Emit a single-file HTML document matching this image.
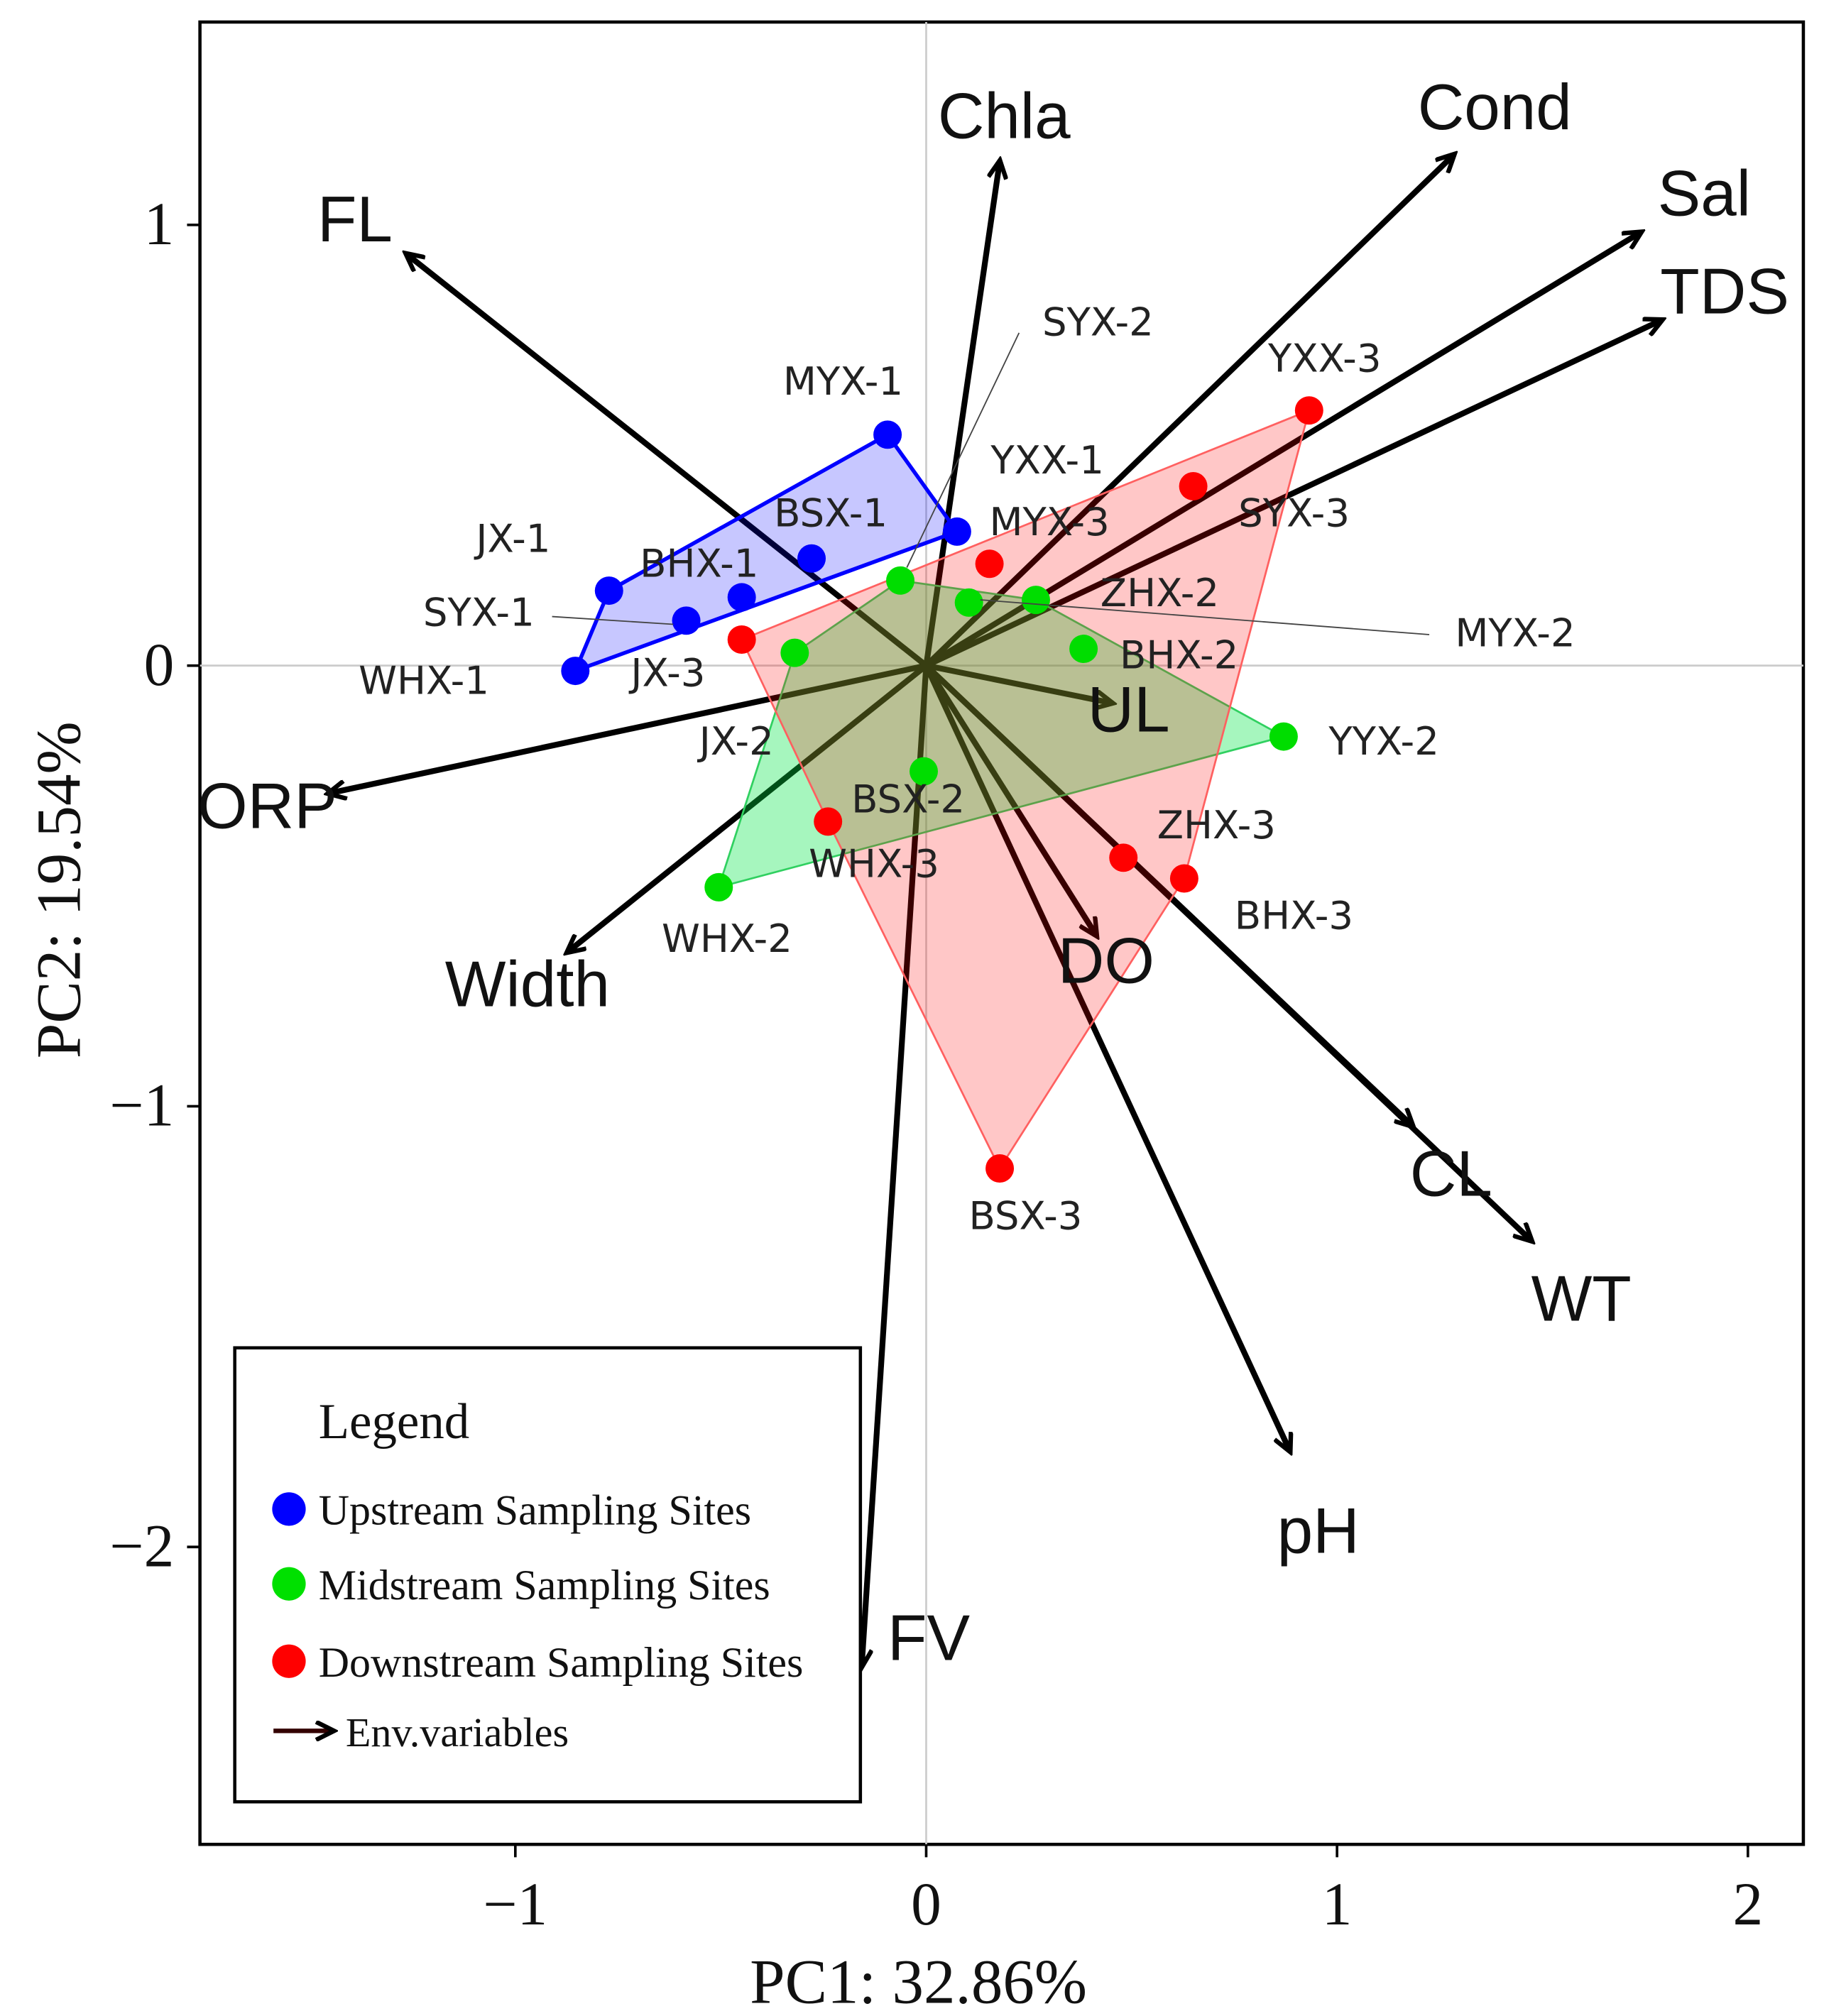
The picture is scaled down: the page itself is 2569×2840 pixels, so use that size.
<!DOCTYPE html>
<html><head><meta charset="utf-8"><style>
html,body{margin:0;padding:0;background:#fff;}
svg{display:block;}
.site{font-family:"DejaVu Sans","Liberation Sans",sans-serif;font-size:30px;fill:#222;}
.var{font-family:"Liberation Sans",sans-serif;font-size:50px;fill:#111;}
.ser{font-family:"Liberation Serif",serif;fill:#111;}
</style></head><body>
<svg id="chart" width="2569" height="2840" viewBox="0 0 1414 1563" xmlns="http://www.w3.org/2000/svg">
<defs>
<marker id="ah" markerWidth="18" markerHeight="16" refX="14" refY="8" orient="auto" markerUnits="userSpaceOnUse" viewBox="0 0 18 16">
<path d="M1,1 L15,8 L1,15" fill="none" stroke="#000" stroke-width="3.5"/>
</marker>
</defs>
<rect x="155" y="17" width="1243" height="1413" fill="#fff" stroke="#000" stroke-width="2.5"/>
<g id="grid"></g>
<g id="axes"></g>
<g id="arrows"></g>
<g id="hulls"></g>
<g id="points"></g>
<g id="labels">
<line x1="790" y1="258" x2="703" y2="440" stroke="#444" stroke-width="1"/>
<line x1="428" y1="478" x2="522" y2="484" stroke="#444" stroke-width="1"/>
<line x1="760" y1="465" x2="1108" y2="492" stroke="#444" stroke-width="1"/>
<text class="site" x="808" y="260">SYX-2</text>
<text class="site" x="607" y="306">MYX-1</text>
<text class="site" x="983" y="288">YXX-3</text>
<text class="site" x="768" y="367">YXX-1</text>
<text class="site" x="600" y="408">BSX-1</text>
<text class="site" x="767" y="415">MYX-3</text>
<text class="site" x="960" y="408">SYX-3</text>
<text class="site" x="369" y="428">JX-1</text>
<text class="site" x="496" y="447">BHX-1</text>
<text class="site" x="853" y="470">ZHX-2</text>
<text class="site" x="328" y="485">SYX-1</text>
<text class="site" x="1128" y="501">MYX-2</text>
<text class="site" x="278" y="538">WHX-1</text>
<text class="site" x="489" y="532">JX-3</text>
<text class="site" x="868" y="518">BHX-2</text>
<text class="site" x="542" y="585">JX-2</text>
<text class="site" x="1030" y="585">YYX-2</text>
<text class="site" x="660" y="630">BSX-2</text>
<text class="site" x="897" y="650">ZHX-3</text>
<text class="site" x="627" y="680">WHX-3</text>
<text class="site" x="957" y="720">BHX-3</text>
<text class="site" x="513" y="738">WHX-2</text>
<text class="site" x="751" y="953">BSX-3</text>
</g>
<g id="varlabels">
<text class="var" x="727" y="107">Chla</text>
<text class="var" x="1099" y="100">Cond</text>
<text class="var" x="1285" y="167">Sal</text>
<text class="var" x="1287" y="243">TDS</text>
<text class="var" x="246" y="187">FL</text>
<text class="var" x="153" y="642">ORP</text>
<text class="var" x="345" y="780">Width</text>
<text class="var" x="843" y="567">UL</text>
<text class="var" x="820" y="762">DO</text>
<text class="var" x="1093" y="927">CL</text>
<text class="var" x="1187" y="1024">WT</text>
<text class="var" x="990" y="1204">pH</text>
<text class="var" x="688" y="1287">FV</text>
</g>
<g>
<rect x="182" y="1045" width="485" height="352" fill="#fff" stroke="#000" stroke-width="2.5"/>
<text class="ser" x="247" y="1115" font-size="39">Legend</text>
<circle cx="224" cy="1170" r="13" fill="#0000ff"/>
<text class="ser" x="247" y="1182" font-size="33">Upstream Sampling Sites</text>
<circle cx="224" cy="1228" r="13" fill="#00e000"/>
<text class="ser" x="247" y="1240" font-size="33">Midstream Sampling Sites</text>
<circle cx="224" cy="1288" r="13" fill="#ff0000"/>
<text class="ser" x="247" y="1300" font-size="33">Downstream Sampling Sites</text>
<line x1="212" y1="1342" x2="258" y2="1342" stroke="#300" stroke-width="3.5" marker-end="url(#ah)"/>
<text class="ser" x="268" y="1354" font-size="32">Env.variables</text>
</g>
<text class="ser" x="712" y="1553" font-size="49" text-anchor="middle">PC1: 32.86%</text>
<text class="ser" x="0" y="0" font-size="49" text-anchor="middle" transform="translate(62,690) rotate(-90)">PC2: 19.54%</text>
<script>
const xTicks=[-1,0,1,2];
const yTicks=[1,0,-1,-2];
const upX=[-0.094,0.075,-0.279,-0.449,-0.584,-0.772,-0.854];
const upY=[0.524,0.304,0.243,0.155,0.102,0.170,-0.012];
const midX=[-0.063,0.104,0.267,0.383,0.870,-0.006,-0.505,-0.320];
const midY=[0.193,0.143,0.149,0.038,-0.161,-0.240,-0.503,0.029];
const downX=[0.932,0.650,0.154,-0.449,-0.239,0.480,0.628,0.179];
const downY=[0.579,0.407,0.231,0.059,-0.354,-0.436,-0.483,-1.141];
const varNames=["Chla","Cond","Sal","TDS","FL","ORP","Width","UL","DO","CL","WT","pH","FV"];
const varX=[0.179,1.284,1.739,1.790,-1.265,-1.454,-0.873,0.452,0.414,1.184,1.473,0.885,-0.157];
const varY=[1.144,1.159,0.983,0.784,0.934,-0.290,-0.650,-0.085,-0.612,-1.045,-1.305,-1.782,-2.271];

const NS="http://www.w3.org/2000/svg";
const X0=718,XU=318.5,Y0=516,YU=341.7;
const sx=v=>X0+v*XU, sy=v=>Y0-v*YU;
function mk(tag,attrs,parent){const e=document.createElementNS(NS,tag);for(const k in attrs)e.setAttribute(k,attrs[k]);document.getElementById(parent).appendChild(e);return e;}
let g=mk('line',{x1:sx(0),x2:sx(0),y1:17,y2:1430,stroke:'#ccc','stroke-width':1.5},'grid');


g=mk('line',{x1:155,x2:1398,y1:sy(0),y2:sy(0),stroke:'#ccc','stroke-width':1.5},'grid');


xTicks.forEach(t=>{
  const l=mk('line',{x1:sx(t),x2:sx(t),y1:1430,y2:1440,stroke:'#000','stroke-width':2},'axes');
  
  
  const tx=mk('text',{x:sx(t),y:1492,'text-anchor':'middle','font-size':47,class:'ser'},'axes');
  tx.textContent=t<0?'\u2212'+(-t):String(t);
  
  
});
yTicks.forEach(t=>{
  const l=mk('line',{x1:145,x2:155,y1:sy(t),y2:sy(t),stroke:'#000','stroke-width':2},'axes');
  
  
  const tx=mk('text',{x:135,y:sy(t)+15,'text-anchor':'end','font-size':47,class:'ser'},'axes');
  tx.textContent=t<0?'\u2212'+(-t):String(t);
  
  
});
varNames.forEach((n,i)=>{
  const a=mk('line',{x1:sx(0),y1:sy(0),x2:sx(varX[i]),y2:sy(varY[i]),stroke:'#000','stroke-width':4.5,'marker-end':'url(#ah)'},'arrows');
  
  
});
function hull(xs,ys){
  const p=xs.map((x,i)=>[sx(x),sy(ys[i])]).sort((a,b)=>a[0]-b[0]||a[1]-b[1]);
  const cr=(o,a,b)=>(a[0]-o[0])*(b[1]-o[1])-(a[1]-o[1])*(b[0]-o[0]);
  const lo=[],up=[];
  for(const q of p){while(lo.length>=2&&cr(lo[lo.length-2],lo[lo.length-1],q)<=0)lo.pop();lo.push(q);}
  for(let i=p.length-1;i>=0;i--){const q=p[i];while(up.length>=2&&cr(up[up.length-2],up[up.length-1],q)<=0)up.pop();up.push(q);}
  lo.pop();up.pop();return lo.concat(up).map(q=>q.join(',')).join(' ');
}
const groups=[
 {n:'upstream',xs:upX,ys:upY,fill:'rgba(0,0,255,0.22)',stroke:'#0000ff',sw:3,dot:'#0000ff'},
 {n:'midstream',xs:midX,ys:midY,fill:'rgba(0,230,70,0.35)',stroke:'#30d060',sw:1.5,dot:'#00dd00'},
 {n:'downstream',xs:downX,ys:downY,fill:'rgba(255,0,0,0.22)',stroke:'#ff6060',sw:1.5,dot:'#ff0000'}
];
groups.forEach(G=>{
  const h=mk('polygon',{points:hull(G.xs,G.ys),fill:G.fill,stroke:G.stroke,'stroke-width':G.sw},'hulls');
  
  
});
groups.forEach(G=>{
  G.xs.forEach((x,i)=>{
    const c=mk('circle',{cx:sx(x),cy:sy(G.ys[i]),r:11,fill:G.dot},'points');
    
    
  });
});
</script>
</svg>
</body></html>
